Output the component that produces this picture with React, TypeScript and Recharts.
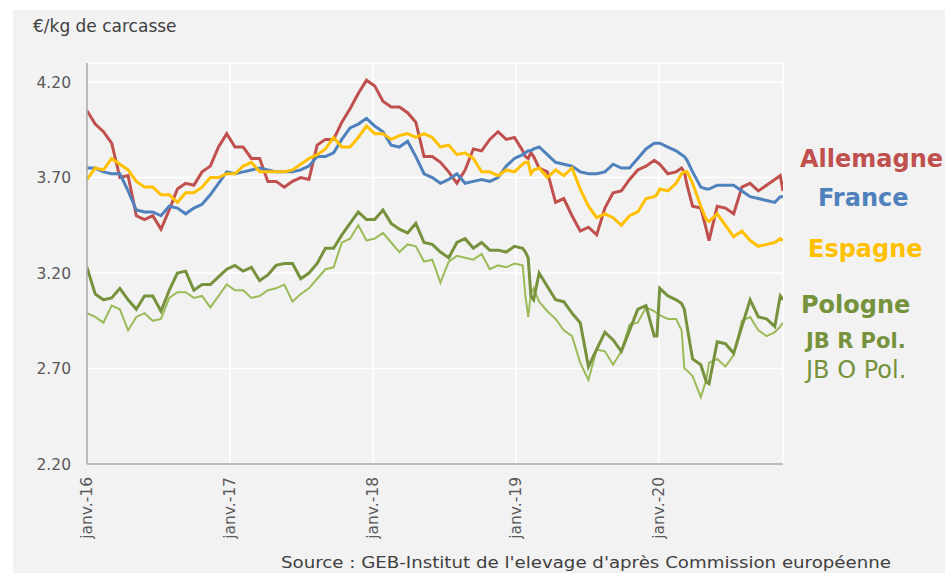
import React from 'react';
import { LineChart, Line, XAxis, YAxis, CartesianGrid } from 'recharts';

// Week index since first week of January 2016
const weeks = [
  0, 3, 6, 9, 12, 15, 18, 21, 24, 27,
  30, 33, 36, 39, 42, 45, 48, 51, 54, 57,
  60, 63, 66, 69, 72, 75, 78, 81, 84, 87,
  90, 93, 96, 99, 102, 105, 108, 111, 114, 117,
  120, 123, 126, 129, 132, 135, 138, 141, 144, 147,
  150, 153, 156,
  159, 160, 161, 162, 163, 165, 168, 171, 174, 177,
  180, 183, 186, 189, 192, 195, 198, 201, 204, 207,
  208, 209, 212, 215, 217, 218, 219, 221, 224, 226,
  227, 230, 233, 236, 239, 242, 245, 248, 251, 253,
  254,
];

const allemagne = [
  4.05, 3.98, 3.94, 3.88, 3.70, 3.71, 3.50, 3.48, 3.50, 3.43,
  3.53, 3.64, 3.67, 3.66, 3.73, 3.76, 3.86, 3.93, 3.86, 3.86,
  3.80, 3.80, 3.68, 3.68, 3.65, 3.68, 3.70, 3.69, 3.87, 3.90,
  3.90, 3.99, 4.06, 4.14, 4.21, 4.18, 4.10, 4.07, 4.07, 4.04,
  3.99, 3.81, 3.81, 3.78, 3.73, 3.67, 3.74, 3.85, 3.84, 3.90,
  3.94, 3.90, 3.91,
  3.84, 3.81, 3.80, 3.83, 3.81, 3.75, 3.73, 3.57, 3.59, 3.50,
  3.42, 3.44, 3.40, 3.54, 3.62, 3.63, 3.69, 3.74, 3.76, 3.79,
  3.78, 3.77, 3.72, 3.73, 3.75, 3.73, 3.66, 3.55, 3.54, 3.43,
  3.37, 3.55, 3.54, 3.51, 3.65, 3.67, 3.63, 3.66, 3.69, 3.71,
  3.63,
];

const france = [
  3.75, 3.75, 3.73, 3.72, 3.72, 3.63, 3.53, 3.52, 3.52, 3.50,
  3.55, 3.54, 3.51, 3.54, 3.56, 3.61, 3.67, 3.73, 3.72, 3.73,
  3.74, 3.75, 3.74, 3.73, 3.73, 3.73, 3.74, 3.76, 3.81, 3.81,
  3.83, 3.90, 3.96, 3.98, 4.01, 3.97, 3.94, 3.87, 3.86, 3.89,
  3.81, 3.72, 3.70, 3.67, 3.69, 3.72, 3.67, 3.68, 3.69, 3.68,
  3.70, 3.76, 3.80,
  3.82, 3.83, 3.84, 3.84, 3.85, 3.86, 3.82, 3.78, 3.77, 3.76,
  3.73, 3.72, 3.72, 3.73, 3.77, 3.75, 3.75, 3.80, 3.85, 3.88,
  3.88, 3.88, 3.86, 3.84, 3.82, 3.81, 3.79, 3.73, 3.65, 3.64,
  3.64, 3.66, 3.66, 3.66, 3.63, 3.60, 3.59, 3.58, 3.57, 3.60,
  3.60,
];

const espagne = [
  3.69, 3.75, 3.74, 3.80, 3.77, 3.74, 3.68, 3.65, 3.65, 3.61,
  3.61, 3.57, 3.62, 3.62, 3.65, 3.70, 3.70, 3.72, 3.72, 3.76,
  3.78, 3.73, 3.73, 3.73, 3.73, 3.74, 3.77, 3.80, 3.82, 3.85,
  3.91, 3.86, 3.86, 3.91, 3.97, 3.93, 3.93, 3.90, 3.92, 3.93,
  3.91, 3.93, 3.91, 3.86, 3.87, 3.82, 3.83, 3.80, 3.73, 3.73,
  3.71, 3.74, 3.73,
  3.77, 3.78, 3.78, 3.72, 3.74, 3.75, 3.70, 3.74, 3.71, 3.75,
  3.64, 3.55, 3.49, 3.51, 3.49, 3.45, 3.50, 3.52, 3.59, 3.60,
  3.61, 3.64, 3.63, 3.67, 3.72, 3.73, 3.73, 3.67, 3.55, 3.48,
  3.47, 3.51, 3.45, 3.39, 3.42, 3.37, 3.34, 3.35, 3.36, 3.38,
  3.37,
];

const pologne = [
  3.23, 3.09, 3.06, 3.07, 3.12, 3.06, 3.01, 3.08, 3.08, 3.00,
  3.11, 3.20, 3.21, 3.11, 3.14, 3.14, 3.18, 3.22, 3.24, 3.21,
  3.23, 3.16, 3.19, 3.24, 3.25, 3.25, 3.17, 3.20, 3.25, 3.33,
  3.33, 3.40, 3.46, 3.52, 3.48, 3.48, 3.53, 3.46, 3.43, 3.41,
  3.46, 3.36, 3.35, 3.31, 3.28, 3.36, 3.38, 3.33, 3.36, 3.32,
  3.32, 3.31, 3.34,
  3.33, 3.31, 3.28, 3.08, 3.06, 3.20, 3.13, 3.06, 3.05, 2.99,
  2.94, 2.71, 2.80, 2.89, 2.85, 2.79, 2.90, 3.01, 3.03, 2.87,
  2.87, 3.12, 3.08, 3.06, 3.04, 3.01, 2.92, 2.75, 2.72, 2.63,
  2.62, 2.84, 2.83, 2.78, 2.92, 3.06, 2.97, 2.96, 2.92, 3.08,
  3.06,
];

const jbOPol = [
  2.99, 2.97, 2.94, 3.03, 3.01, 2.90, 2.97, 2.99, 2.95, 2.96,
  3.07, 3.10, 3.10, 3.07, 3.08, 3.02, 3.08, 3.14, 3.11, 3.11,
  3.07, 3.08, 3.11, 3.12, 3.14, 3.05, 3.09, 3.12, 3.17, 3.22,
  3.23, 3.36, 3.38, 3.45, 3.37, 3.38, 3.41, 3.36, 3.31, 3.35,
  3.34, 3.26, 3.27, 3.15, 3.26, 3.29, 3.28, 3.27, 3.30, 3.22,
  3.24, 3.23, 3.25,
  3.24, 3.08, 2.97, 3.09, 3.12, 3.05, 3.00, 2.96, 2.90, 2.87,
  2.73, 2.64, 2.80, 2.79, 2.72, 2.79, 2.93, 2.94, 3.02, 3.00,
  2.99, 2.98, 2.96, 2.96, 2.90, 2.70, 2.69, 2.66, 2.55, 2.64,
  2.73, 2.75, 2.71, 2.77, 2.95, 2.97, 2.90, 2.87, 2.89, 2.92,
  2.94,
];

const xTickWeeks = [0, 52.18, 104.36, 156.54, 208.72];
const xTickLabels = ['janv.-16', 'janv.-17', 'janv.-18', 'janv.-19', 'janv.-20'];
const yTicks = [2.2, 2.7, 3.2, 3.7, 4.2];

const data = weeks.map((w, i) => ({
  w,
  de: allemagne[i],
  fr: france[i],
  es: espagne[i],
  pl: pologne[i],
  jbo: jbOPol[i],
}));

const FONT = '"DejaVu Sans", sans-serif';
const TXT = '#595959';

function XTick(props: any) {
  const { x, y, index } = props;
  const ty = y + 13;
  return (
    <text
      x={x}
      y={ty}
      transform={`rotate(-90 ${x} ${ty})`}
      textAnchor="end"
      dy="0.35em"
      fontSize={15.5}
      fill={TXT}
      fontFamily={FONT}
    >
      {xTickLabels[index]}
    </text>
  );
}

export default function App() {
  return (
    <div style={{ position: 'absolute', left: 0, top: 0, width: 945, height: 573, background: '#ffffff', overflow: 'hidden', fontFamily: FONT }}>
      <div style={{ position: 'absolute', left: 13, top: 10, width: 932, height: 563, background: '#F2F2F2' }} />
      <div style={{ position: 'absolute', left: 0, top: 0 }}>
        <LineChart
          width={945}
          height={573}
          data={data}
          margin={{ top: 63, right: 162, bottom: 29, left: 27 }}
        >
          <CartesianGrid stroke="#FFFFFF" strokeWidth={1.5} />
          <XAxis
            dataKey="w"
            type="number"
            domain={[0, 254]}
            ticks={xTickWeeks}
            interval={0}
            height={80}
            tickSize={0}
            tickMargin={0}
            tickLine={false}
            axisLine={{ stroke: '#A6A6A6', strokeWidth: 1.5 }}
            tick={<XTick />}
            allowDataOverflow
          />
          <YAxis
            type="number"
            domain={[2.2, 4.3]}
            ticks={yTicks}
            interval={0}
            width={60}
            tickSize={0}
            tickMargin={16}
            tickLine={false}
            axisLine={{ stroke: '#A6A6A6', strokeWidth: 1.5 }}
            tick={{ fill: TXT, fontSize: 15.5, fontFamily: FONT }}
            tickFormatter={(v: number) => v.toFixed(2)}
            allowDataOverflow
          />
          <Line type="linear" dataKey="jbo" stroke="#9BBB59" strokeWidth={2} dot={false} isAnimationActive={false} />
          <Line type="linear" dataKey="pl" stroke="#76923C" strokeWidth={3} dot={false} isAnimationActive={false} />
          <Line type="linear" dataKey="de" stroke="#C0504D" strokeWidth={3} dot={false} isAnimationActive={false} />
          <Line type="linear" dataKey="fr" stroke="#4F81BD" strokeWidth={3} dot={false} isAnimationActive={false} />
          <Line type="linear" dataKey="es" stroke="#FFC000" strokeWidth={3} dot={false} isAnimationActive={false} />
        </LineChart>
      </div>
      <svg width={945} height={573} style={{ position: 'absolute', left: 0, top: 0, pointerEvents: 'none' }}>
        <text x={33} y={32} fontSize={17} fill="#404040" fontFamily={FONT}>€/kg de carcasse</text>
        <text x={800} y={167} fontSize={24} fontWeight="bold" fill="#C0504D" fontFamily={FONT}>Allemagne</text>
        <text x={818} y={206} fontSize={24} fontWeight="bold" fill="#4F81BD" fontFamily={FONT}>France</text>
        <text x={808} y={257} fontSize={24} fontWeight="bold" fill="#FFC000" fontFamily={FONT}>Espagne</text>
        <text x={801} y={313} fontSize={24} fontWeight="bold" fill="#76923C" fontFamily={FONT}>Pologne</text>
        <text x={806} y={348} fontSize={21} fontWeight="bold" fill="#76923C" fontFamily={FONT}>JB R Pol.</text>
        <text x={806} y={378} fontSize={24} fill="#76923C" fontFamily={FONT}>JB O Pol.</text>
        <text x={281} y={568} fontSize={16} textLength={610} lengthAdjust="spacingAndGlyphs" fill="#404040" fontFamily={FONT}>Source : GEB-Institut de l'elevage d'après Commission européenne</text>
      </svg>
    </div>
  );
}
